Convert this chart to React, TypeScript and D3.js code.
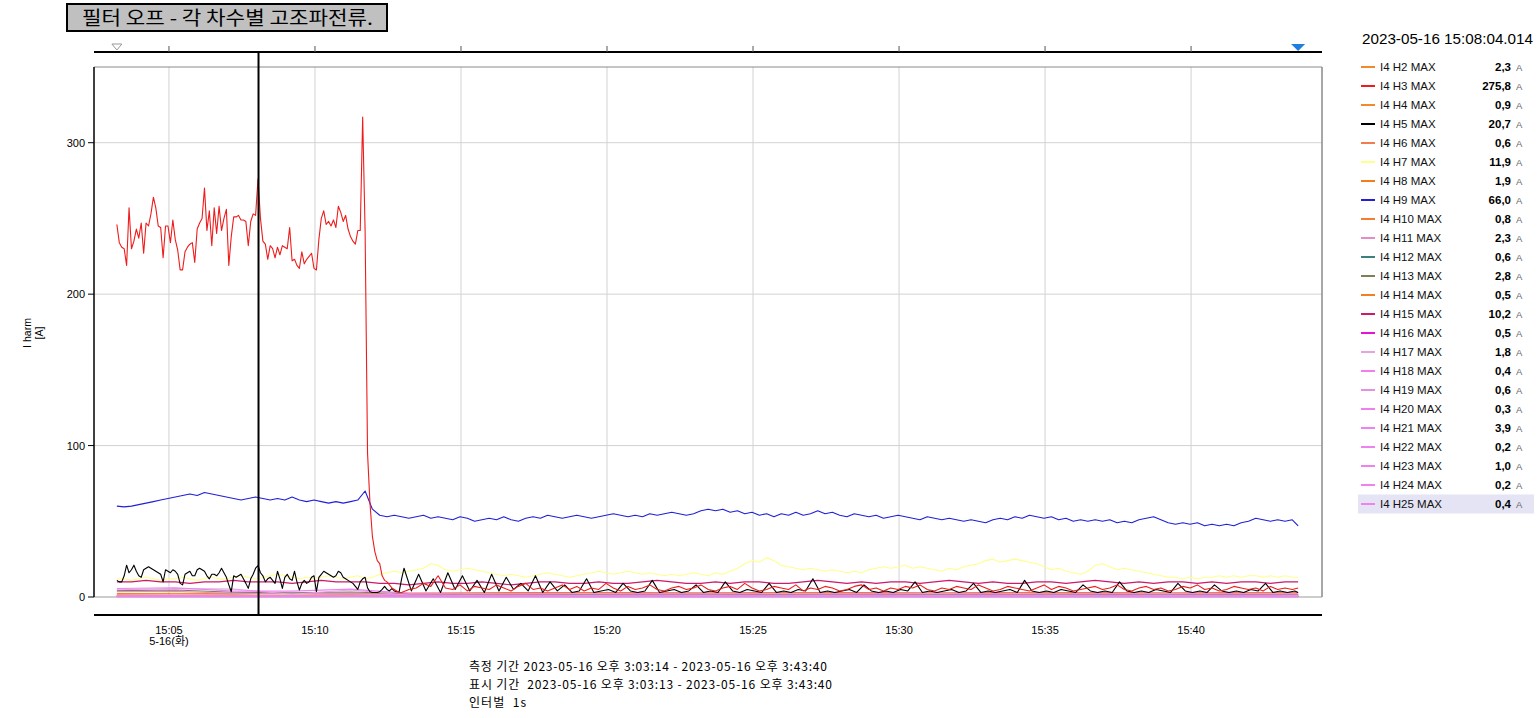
import React from 'react';
import * as d3 from 'd3';

// ---------- time frame ----------
const T0 = new Date(2023, 4, 16, 15, 3, 13).getTime();
const DURATION_S = 2427;
const X_DOMAIN = [new Date(2023, 4, 16, 15, 2, 26), new Date(2023, 4, 16, 15, 44, 29)];
const CURSOR_TIME = new Date(2023, 4, 16, 15, 8, 4, 14);
const Y_DOMAIN = [0, 350];
const Y_TICKS = [0, 100, 200, 300];

// ---------- texts ----------
const TITLE = '필터 오프 - 각 차수별 고조파전류.';
const CURSOR_LABEL = '2023-05-16 15:08:04.014';
const Y_LABEL = ['I harm', '[A]'];
const DATE_LABEL = '5-16(화)';
const FOOTER = [
  '측정 기간 2023-05-16 오후 3:03:14 - 2023-05-16 오후 3:43:40',
  '표시 기간  2023-05-16 오후 3:03:13 - 2023-05-16 오후 3:43:40',
  '인터벌  1s',
];
const FOOTER_WIDTHS = [358, 363, 57];

// ---------- legend ----------
const LEGEND_NAMES = ['I4 H2 MAX', 'I4 H3 MAX', 'I4 H4 MAX', 'I4 H5 MAX', 'I4 H6 MAX', 'I4 H7 MAX', 'I4 H8 MAX', 'I4 H9 MAX', 'I4 H10 MAX', 'I4 H11 MAX', 'I4 H12 MAX', 'I4 H13 MAX', 'I4 H14 MAX', 'I4 H15 MAX', 'I4 H16 MAX', 'I4 H17 MAX', 'I4 H18 MAX', 'I4 H19 MAX', 'I4 H20 MAX', 'I4 H21 MAX', 'I4 H22 MAX', 'I4 H23 MAX', 'I4 H24 MAX', 'I4 H25 MAX'];
const LEGEND_VALUES = ['2,3', '275,8', '0,9', '20,7', '0,6', '11,9', '1,9', '66,0', '0,8', '2,3', '0,6', '2,8', '0,5', '10,2', '0,5', '1,8', '0,4', '0,6', '0,3', '3,9', '0,2', '1,0', '0,2', '0,4'];
const SERIES_COLORS = ['#f08a2c', '#ee1c1c', '#f08a2c', '#000000', '#f07c50', '#ffff8c', '#f07f20', '#2020d8', '#f08030', '#e48cc8', '#3c8080', '#7f7f5a', '#f08020', '#cc1a6c', '#e414d4', '#e4a4e4', '#f07ef0', '#e492e0', '#f07ef0', '#ee82ee', '#ee82ee', '#ee82ee', '#ee82ee', '#ee82ee'];
// index order in which the series are painted (last = on top)
const DRAW_ORDER = [0, 2, 4, 6, 8, 9, 10, 11, 12, 14, 15, 16, 17, 18, 19, 20, 21, 22, 23, 5, 13, 7, 3, 1];

// ---------- series values ----------
// H3: 5 s samples from 15:03:13, then 15 s samples from +600 s
const H3_EARLY = [246, 234, 231, 230, 219, 257, 230, 235, 243, 237, 247, 227, 247, 245, 253, 264, 257, 245, 244, 224,
  245, 245, 234, 249, 236, 229, 216, 216, 228, 231, 233, 234, 221, 243, 247, 250, 270, 242, 255, 232,
  257, 240, 258, 242, 250, 256, 219, 238, 251, 251, 252, 249, 249, 248, 232, 248, 253, 252, 276, 250,
  235, 233, 223, 232, 230, 224, 231, 226, 232, 231, 230, 244, 222, 223, 219, 217, 228, 220, 223, 225,
  227, 217, 216, 236, 250, 255, 246, 248, 245, 249, 244, 258, 254, 248, 252, 243, 238, 235, 233, 242,
  242, 317, 242, 95, 62, 40, 30, 24, 22, 14, 11, 10, 8, 6, 5, 4, 3, 3];
const H3_LATE = [5, 6, 9, 7, 14, 6, 5, 8, 4, 7, 6, 5, 8, 6, 4, 7, 9, 5, 6, 4,
  6, 8, 5, 7, 4, 6, 5, 9, 6, 4, 7, 5, 6, 8, 5, 4, 6, 7, 5, 6,
  8, 5, 4, 6, 7, 5, 9, 6, 4, 5, 7, 6, 5, 8, 4, 6, 5, 7, 6, 4,
  5, 7, 8, 5, 6, 4, 6, 5, 7, 6, 8, 5, 4, 6, 5, 7, 6, 5, 8, 6,
  4, 5, 7, 6, 5, 4, 6, 8, 5, 7, 6, 4, 5, 6, 7, 5, 6, 8, 5, 4,
  6, 7, 5, 6, 4, 5, 7, 6, 8, 5, 6, 4, 5, 7, 6, 5, 6, 4, 7, 5,
  6, 5, 6];
// H5: 5 s samples, then 15 s samples from +605 s
const H5_EARLY = [11, 10, 10, 14, 21, 16, 18, 21, 17, 14, 13, 18, 19, 20, 19, 18, 17, 16, 15, 10,
  18, 17, 16, 18, 17, 15, 9, 8, 15, 16, 17, 14, 14, 18, 19, 18, 17, 14, 12, 15,
  15, 14, 16, 19, 16, 13, 8, 3.5, 14, 13, 14, 15, 12, 9, 5.7, 12, 15, 19, 20.7, 16,
  14, 10, 12, 13, 11, 9, 17, 12, 5.7, 13, 15, 12, 11, 17, 10, 4.6, 9, 11, 9, 10,
  13, 14, 3.5, 13, 15, 17, 16, 15, 14, 13, 14, 17, 16, 13, 12, 11, 10, 9, 7, 5,
  10, 12, 13, 6, 3.5, 3, 3, 3, 3.5, 5, 7, 5, 4, 5.5, 4, 3.5, 3.5, 12, 19];
const H5_LATE = [4, 15, 4, 12, 3, 16, 5, 14, 4, 11, 3, 15, 4, 13, 5, 9, 4, 14, 3, 10,
  4, 8, 3, 4, 12, 3, 4, 5, 3, 9, 4, 3, 4, 11, 3, 4, 5, 3, 4, 8,
  3, 4, 3, 10, 4, 3, 5, 4, 3, 9, 3, 4, 3, 5, 4, 12, 3, 4, 3, 4,
  5, 3, 8, 4, 3, 4, 3, 5, 4, 10, 3, 4, 3, 4, 5, 3, 4, 9, 3, 4,
  3, 4, 5, 3, 11, 4, 3, 4, 3, 5, 4, 3, 8, 4, 3, 4, 3, 10, 4, 3,
  4, 3, 5, 4, 3, 9, 4, 3, 4, 3, 8, 4, 3, 4, 3, 5, 4, 9, 3, 4,
  3, 4, 3];
// H7 and H9: 15 s samples
const H7_VALUES = [12, 12, 11, 12, 13, 12, 11, 12, 12, 13, 12, 11, 12, 13, 12, 12, 13, 14, 13, 12,
  13, 14, 15, 14, 13, 12, 13, 12, 13, 14, 13, 12, 13, 14, 12, 13, 15, 16, 17, 16,
  17, 18, 19, 22, 21, 18, 17, 18, 19, 18, 17, 16, 15, 14, 15, 14, 13, 14, 15, 16,
  15, 14, 13, 14, 15, 16, 17, 16, 15, 16, 17, 16, 15, 16, 15, 14, 15, 14, 15, 16,
  15, 14, 16, 15, 17, 19, 22, 24, 23, 26, 24, 21, 20, 19, 18, 19, 18, 17, 18, 17,
  16, 17, 16, 18, 19, 20, 19, 20, 21, 19, 20, 19, 18, 17, 19, 18, 20, 21, 22, 24,
  25, 23, 24, 25, 24, 23, 22, 20, 18, 19, 17, 16, 15, 17, 21, 22, 20, 18, 19, 18,
  17, 16, 15, 14, 13, 13, 12, 13, 12, 13, 13, 14, 13, 14, 13, 14, 14, 13, 14, 13,
  14, 13, 13];
const H9_VALUES = [60, 59.5, 60, 61, 62, 63, 64, 65, 66, 67, 68, 67, 69, 68, 67, 66, 65, 64, 65, 66,
  65, 64, 65, 64, 66, 64, 63, 64, 63, 62, 63, 62, 63, 64, 70, 58, 54, 53, 54, 53,
  52, 53, 54, 52, 53, 52, 51, 53, 52, 50, 51, 52, 51, 53, 51, 50, 52, 53, 52, 54,
  53, 52, 53, 54, 53, 52, 53, 54, 55, 54, 53, 54, 53, 55, 54, 55, 56, 55, 54, 55,
  57, 58, 57, 58, 56, 57, 55, 56, 54, 55, 53, 55, 54, 56, 54, 55, 57, 55, 56, 54,
  53, 55, 54, 53, 54, 52, 53, 54, 53, 52, 51, 53, 52, 51, 52, 51, 50, 51, 50, 49,
  51, 52, 51, 53, 52, 54, 53, 52, 53, 51, 52, 50, 51, 50, 51, 50, 51, 49, 50, 49,
  51, 52, 53, 51, 49, 48, 49, 48, 49, 47, 48, 47, 48, 47, 49, 50, 52, 51, 50, 51,
  50, 51, 47];
// H15: 30 s samples
const H15_VALUES = [10, 10, 11, 10, 10, 9, 10, 10, 11, 10, 10, 10, 9, 10, 11, 10, 10, 10,
  9, 9, 8, 9, 10, 9, 9, 10, 9, 8, 9, 10, 10, 9, 9, 10, 9, 9, 10, 11, 10, 9, 9, 10, 9, 10, 10, 9,
  9, 10, 11, 10, 9, 10, 9, 10, 10, 9, 10, 11, 10, 9, 10, 9, 9, 10, 10, 9, 10, 11, 10, 9, 10, 9,
  10, 10, 9, 10, 9, 10, 10, 9, 10, 10];
// small harmonics: 120 s samples
const H2_VALUES = [2.3, 2.5, 2.4, 2.3, 2.2, 1.9, 1.7, 1.8, 1.6, 1.7, 1.8, 1.7, 1.6, 1.5, 1.7, 1.6, 1.8, 1.7, 1.6, 1.5, 1.6, 1.6];
const H4_VALUES = [0.9, 1, 0.9, 0.9, 1, 0.8, 0.7, 0.8, 0.7, 0.8, 0.7, 0.8, 0.7, 0.8, 0.7, 0.8, 0.7, 0.8, 0.7, 0.8, 0.7, 0.7];
const H6_VALUES = [0.6, 0.7, 0.6, 0.6, 0.7, 0.5, 0.5, 0.6, 0.5, 0.5, 0.6, 0.5, 0.5, 0.6, 0.5, 0.5, 0.6, 0.5, 0.5, 0.6, 0.5, 0.5];
const H8_VALUES = [1.9, 2, 1.9, 2, 1.9, 2.6, 2.8, 3, 2.9, 3, 2.8, 3, 2.9, 3, 2.8, 2.9, 3, 2.9, 2.8, 3, 2.9, 2.9];
const H10_VALUES = [0.8, 0.9, 0.8, 0.8, 0.9, 0.7, 0.6, 0.7, 0.6, 0.7, 0.6, 0.7, 0.6, 0.7, 0.6, 0.7, 0.6, 0.7, 0.6, 0.7, 0.6, 0.6];
const H11_VALUES = [3.5, 3.8, 2.3, 2.4, 2.3, 1.6, 1.4, 1.5, 1.4, 1.5, 1.4, 1.5, 1.4, 1.5, 1.4, 1.5, 1.4, 1.5, 1.4, 1.5, 1.4, 1.4];
const H12_VALUES = [0.6, 0.7, 0.6, 0.6, 0.7, 0.5, 0.4, 0.5, 0.4, 0.5, 0.4, 0.5, 0.4, 0.5, 0.4, 0.5, 0.4, 0.5, 0.4, 0.5, 0.4, 0.4];
const H13_VALUES = [4.2, 4.6, 3.1, 2.8, 3.3, 2.2, 1.8, 1.9, 1.7, 1.8, 1.9, 1.7, 1.8, 1.9, 1.7, 1.8, 1.9, 1.7, 1.8, 1.7, 1.8, 1.8];
const H14_VALUES = [0.5, 0.6, 0.5, 0.5, 0.6, 0.4, 0.4, 0.5, 0.4, 0.4, 0.5, 0.4, 0.4, 0.5, 0.4, 0.4, 0.5, 0.4, 0.4, 0.5, 0.4, 0.4];
const H16_VALUES = [0.5, 0.5, 0.5, 0.5, 0.6, 0.4, 0.4, 0.4, 0.4, 0.4, 0.4, 0.4, 0.4, 0.4, 0.4, 0.4, 0.4, 0.4, 0.4, 0.4, 0.4, 0.4];
const H17_VALUES = [4.8, 5.5, 5.2, 1.8, 4.6, 1.2, 1.1, 1.2, 1.1, 1.2, 1.1, 1.2, 1.1, 1.2, 1.1, 1.2, 1.1, 1.2, 1.1, 1.2, 1.1, 1.1];
const H18_VALUES = [0.4, 0.4, 0.4, 0.4, 0.5, 0.3, 0.3, 0.3, 0.3, 0.3, 0.3, 0.3, 0.3, 0.3, 0.3, 0.3, 0.3, 0.3, 0.3, 0.3, 0.3, 0.3];
const H19_VALUES = [0.6, 0.7, 0.6, 0.6, 0.7, 0.5, 0.5, 0.5, 0.5, 0.5, 0.5, 0.5, 0.5, 0.5, 0.5, 0.5, 0.5, 0.5, 0.5, 0.5, 0.5, 0.5];
const H20_VALUES = [0.3, 0.3, 0.3, 0.3, 0.4, 0.3, 0.2, 0.3, 0.2, 0.3, 0.2, 0.3, 0.2, 0.3, 0.2, 0.3, 0.2, 0.3, 0.2, 0.3, 0.2, 0.2];
const H21_VALUES = [5.6, 6.1, 3.9, 3.9, 5.2, 2.4, 2.1, 2.2, 2.1, 2.2, 2.1, 2.2, 2.1, 2.2, 2.1, 2.2, 2.1, 2.2, 2.1, 2.2, 2.1, 2.1];
const H22_VALUES = [0.2, 0.2, 0.2, 0.2, 0.3, 0.2, 0.2, 0.2, 0.2, 0.2, 0.2, 0.2, 0.2, 0.2, 0.2, 0.2, 0.2, 0.2, 0.2, 0.2, 0.2, 0.2];
const H23_VALUES = [1.0, 1.1, 1.0, 1.0, 1.1, 0.8, 0.7, 0.8, 0.7, 0.8, 0.7, 0.8, 0.7, 0.8, 0.7, 0.8, 0.7, 0.8, 0.7, 0.8, 0.7, 0.7];
const H24_VALUES = [0.2, 0.2, 0.2, 0.2, 0.3, 0.2, 0.2, 0.2, 0.2, 0.2, 0.2, 0.2, 0.2, 0.2, 0.2, 0.2, 0.2, 0.2, 0.2, 0.2, 0.2, 0.2];
const H25_VALUES = [0.4, 0.4, 0.4, 0.4, 0.5, 0.3, 0.3, 0.3, 0.3, 0.3, 0.3, 0.3, 0.3, 0.3, 0.3, 0.3, 0.3, 0.3, 0.3, 0.3, 0.3, 0.3];

type Seg = { start: number; step: number; values: number[] };
const seg = (start: number, step: number, values: number[]): Seg => ({ start, step, values });

const SERIES_SEGMENTS: Seg[][] = [
  [seg(0, 120, H2_VALUES)],
  [seg(0, 5, H3_EARLY), seg(600, 15, H3_LATE)],
  [seg(0, 120, H4_VALUES)],
  [seg(0, 5, H5_EARLY), seg(605, 15, H5_LATE)],
  [seg(0, 120, H6_VALUES)],
  [seg(0, 15, H7_VALUES)],
  [seg(0, 120, H8_VALUES)],
  [seg(0, 15, H9_VALUES)],
  [seg(0, 120, H10_VALUES)],
  [seg(0, 120, H11_VALUES)],
  [seg(0, 120, H12_VALUES)],
  [seg(0, 120, H13_VALUES)],
  [seg(0, 120, H14_VALUES)],
  [seg(0, 30, H15_VALUES)],
  [seg(0, 120, H16_VALUES)],
  [seg(0, 120, H17_VALUES)],
  [seg(0, 120, H18_VALUES)],
  [seg(0, 120, H19_VALUES)],
  [seg(0, 120, H20_VALUES)],
  [seg(0, 120, H21_VALUES)],
  [seg(0, 120, H22_VALUES)],
  [seg(0, 120, H23_VALUES)],
  [seg(0, 120, H24_VALUES)],
  [seg(0, 120, H25_VALUES)],
];

type Pt = { t: number; v: number };
function toPoints(segs: Seg[]): Pt[] {
  const pts: Pt[] = [];
  segs.forEach((s) => {
    s.values.forEach((v, i) => {
      const t = Math.min(s.start + i * s.step, DURATION_S);
      if (pts.length && pts[pts.length - 1].t >= t) return;
      pts.push({ t, v });
    });
  });
  return pts;
}

const LATIN = "'Liberation Sans', Arial, 'Noto Sans CJK KR', sans-serif";
const KOREAN = "'Noto Sans CJK KR', 'Liberation Sans', sans-serif";

export default function App() {
  const left = 94, right = 1322, top = 67, bottom = 597;
  const axisY = 615, barY = 52;
  const x = d3.scaleTime().domain(X_DOMAIN).range([left, right]);
  const y = d3.scaleLinear().domain(Y_DOMAIN).range([bottom, top]);
  const xTicks = x.ticks(d3.timeMinute.every(5) as any);
  const fmt = d3.timeFormat('%H:%M');
  const line = d3.line<Pt>()
    .x((d) => x(new Date(T0 + d.t * 1000)))
    .y((d) => y(d.v));
  const cursorX = x(CURSOR_TIME);
  const startX = x(new Date(T0));
  const endX = x(new Date(T0 + DURATION_S * 1000));
  const legendTop = 67, legendStep = 19;

  return (
    <svg width={1540} height={718} style={{ position: 'absolute', left: 0, top: 0, background: '#fff' }}>
      <defs>
        <clipPath id="plotClip">
          <rect x={left} y={top} width={right - left} height={bottom - top + 1.5} />
        </clipPath>
      </defs>

      {/* title */}
      <rect x={67} y={4} width={320} height={27} fill="#c0c0c0" stroke="#000" strokeWidth={2} />
      <text x={82} y={25} fontFamily={KOREAN} fontSize={19} fill="#000" textLength={291} lengthAdjust="spacingAndGlyphs">{TITLE}</text>

      {/* top bar */}
      <line x1={left} x2={right} y1={barY} y2={barY} stroke="#000" strokeWidth={2} />
      {xTicks.map((t, i) => (
        <line key={'bt' + i} x1={x(t)} x2={x(t)} y1={barY - 6} y2={barY} stroke="#555" strokeWidth={1} />
      ))}
      <path d={`M${startX - 5},${barY - 8} L${startX + 5},${barY - 8} L${startX},${barY - 2} Z`} fill="#fff" stroke="#999" strokeWidth={1} />
      <path d={`M${endX - 7},${barY - 8} L${endX + 7},${barY - 8} L${endX},${barY - 1} Z`} fill="#1e7fe0" />

      {/* grid */}
      {xTicks.map((t, i) => (
        <line key={'gx' + i} x1={x(t)} x2={x(t)} y1={top} y2={bottom} stroke="#d2d2d2" strokeWidth={1} />
      ))}
      {Y_TICKS.filter((v) => v > 0).map((v) => (
        <line key={'gy' + v} x1={left} x2={right} y1={y(v)} y2={y(v)} stroke="#d2d2d2" strokeWidth={1} />
      ))}

      {/* frame */}
      <line x1={left} x2={right} y1={top} y2={top} stroke="#8a8a8a" strokeWidth={1} />
      <line x1={right} x2={right} y1={top} y2={bottom} stroke="#8a8a8a" strokeWidth={1.5} />
      <line x1={left} x2={right} y1={bottom} y2={bottom} stroke="#9a9a9a" strokeWidth={1} />

      {/* series */}
      <g clipPath="url(#plotClip)">
        {DRAW_ORDER.map((i) => (
          <path key={'s' + i} d={line(toPoints(SERIES_SEGMENTS[i])) || ''} fill="none" stroke={SERIES_COLORS[i]} strokeWidth={1.1} strokeLinejoin="round" />
        ))}
      </g>

      {/* y axis */}
      <line x1={left} x2={left} y1={top} y2={bottom} stroke="#000" strokeWidth={1.5} />
      {Y_TICKS.map((v) => (
        <g key={'yt' + v}>
          <line x1={left - 6} x2={left} y1={y(v)} y2={y(v)} stroke="#000" strokeWidth={1} />
          <text x={left - 9} y={y(v) + 4} textAnchor="end" fontFamily={LATIN} fontSize={11} fill="#000">{v}</text>
        </g>
      ))}
      <text transform="translate(31,333) rotate(-90)" textAnchor="middle" fontFamily={LATIN} fontSize={10.5} fill="#000">{Y_LABEL[0]}</text>
      <text transform="translate(43,333) rotate(-90)" textAnchor="middle" fontFamily={LATIN} fontSize={10.5} fill="#000">{Y_LABEL[1]}</text>

      {/* x axis */}
      <line x1={left} x2={right} y1={axisY} y2={axisY} stroke="#000" strokeWidth={2} />
      {xTicks.map((t, i) => (
        <g key={'xt' + i}>
          <text x={x(t)} y={634} textAnchor="middle" fontFamily={LATIN} fontSize={11} fill="#000">{fmt(t)}</text>
          {i === 0 && (
            <text x={x(t)} y={645} textAnchor="middle" fontFamily={LATIN} fontSize={11} fill="#000">{DATE_LABEL}</text>
          )}
        </g>
      ))}

      {/* cursor */}
      <line x1={cursorX} x2={cursorX} y1={barY} y2={axisY} stroke="#000" strokeWidth={2} />

      {/* legend */}
      <text x={1362} y={44} fontFamily={LATIN} fontSize={14} fill="#000" textLength={171} lengthAdjust="spacingAndGlyphs">{CURSOR_LABEL}</text>
      <rect x={1358} y={legendTop + 23 * legendStep - 9.5} width={176} height={19} fill="#e4e4f4" />
      {LEGEND_NAMES.map((name, i) => {
        const cy = legendTop + i * legendStep;
        return (
          <g key={'lg' + i}>
            <line x1={1361} x2={1375} y1={cy} y2={cy} stroke={SERIES_COLORS[i]} strokeWidth={2} />
            <text x={1380} y={cy + 4} fontFamily={LATIN} fontSize={11.5} fill="#111">{name}</text>
            <text x={1511} y={cy + 4} textAnchor="end" fontFamily={LATIN} fontSize={11.5} fontWeight="bold" fill="#000">{LEGEND_VALUES[i]}</text>
            <text x={1516} y={cy + 4} fontFamily={LATIN} fontSize={9.5} fill="#666">A</text>
          </g>
        );
      })}

      {/* footer */}
      {FOOTER.map((s, i) => (
        <text key={'ft' + i} x={469} y={671 + i * 18} fontFamily={KOREAN} fontSize={12} fill="#000" xmlSpace="preserve" textLength={FOOTER_WIDTHS[i]} lengthAdjust="spacing">{s}</text>
      ))}
    </svg>
  );
}
